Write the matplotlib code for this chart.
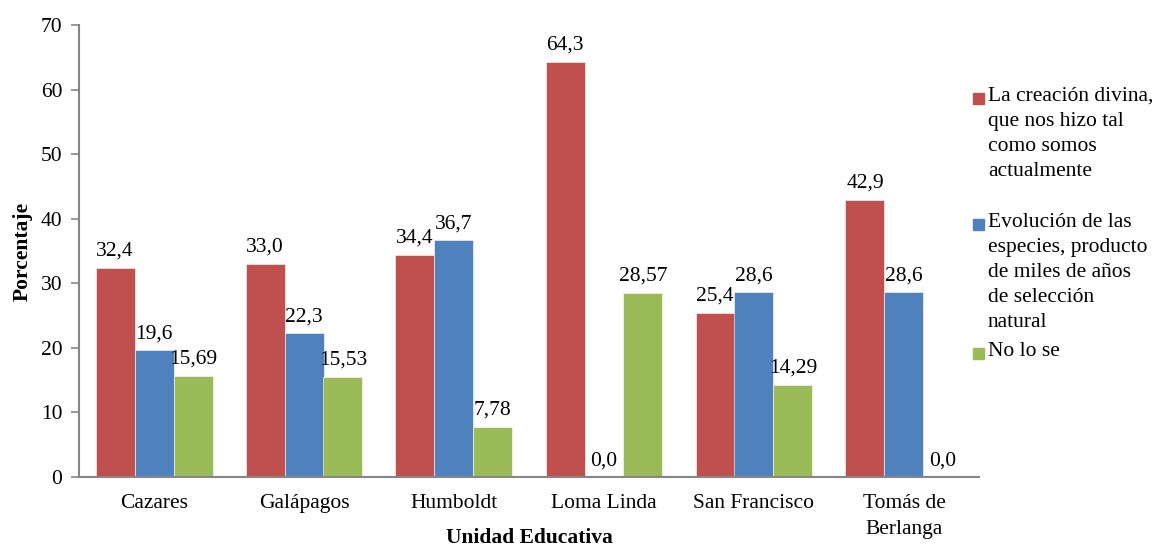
import matplotlib
matplotlib.use("Agg")
import matplotlib.pyplot as plt
import numpy as np
from matplotlib.patches import Rectangle

plt.rcParams["font.family"] = ["Liberation Serif", "DejaVu Serif"]

# data
categories = ["Cazares", "Galápagos", "Humboldt", "Loma Linda", "San Francisco", "Tomás de\nBerlanga"]
series_names = [
    "La creación divina,\nque nos hizo tal\ncomo somos\nactualmente",
    "Evolución de las\nespecies, producto\nde miles de años\nde selección\nnatural",
    "No lo se",
]
creacion = [32.4, 33.0, 34.4, 64.3, 25.4, 42.9]
evolucion = [19.6, 22.3, 36.7, 0.0, 28.6, 28.6]
no_se = [15.69, 15.53, 7.78, 28.57, 14.29, 0.0]
decimals = [1, 1, 2]
colors = ["#C0504D", "#4F81BD", "#9BBB59"]
y_ticks = [0, 10, 20, 30, 40, 50, 60, 70]

FS = 15.5


def fmt(v, nd):
    if v == 0:
        return "0,0"
    return f"{v:.{nd}f}".replace(".", ",")


def main() -> None:
    fig = plt.figure(figsize=(11.54, 5.49), dpi=100)
    ax = fig.add_axes([79 / 1154, 1 - 477 / 549, 900 / 1154, 452 / 549])

    x = np.arange(len(categories))
    width = 0.26
    all_series = [creacion, evolucion, no_se]
    for i, (vals, col, nd) in enumerate(zip(all_series, colors, decimals)):
        pos = x + (i - 1) * width
        ax.bar(pos, vals, width, color=col, edgecolor="white", linewidth=0.4)
        for px, v in zip(pos, vals):
            ax.annotate(fmt(v, nd), (px, v), xytext=(0, 5), textcoords="offset points",
                        ha="center", va="bottom", fontsize=FS)

    ax.set_xlim(-0.5, len(categories) - 0.5)
    ax.set_ylim(0, 70)
    ax.set_yticks(y_ticks)
    ax.set_xticks(x)
    ax.set_xticklabels(categories, fontsize=FS, linespacing=1.5)
    ax.tick_params(axis="x", length=0, pad=12)
    ax.tick_params(axis="y", labelsize=FS, length=6, color="#868686", width=1.2, pad=6)
    for side in ["top", "right"]:
        ax.spines[side].set_visible(False)
    for side in ["left", "bottom"]:
        ax.spines[side].set_color("#868686")
        ax.spines[side].set_linewidth(1.5)

    ax.set_ylabel("Porcentaje", fontsize=FS, fontweight="bold", labelpad=6)
    fig.text(529 / 1154, 1 / 549, "Unidad Educativa", ha="center", va="bottom",
             fontsize=FS, fontweight="bold")

    # legend drawn by hand to keep the marker on the first line
    cap_tops = [92, 218, 347]
    for name, col, top in zip(series_names, colors, cap_tops):
        fig.patches.append(Rectangle((973 / 1154, 1 - (top + 12) / 549), 11 / 1154, 11 / 549,
                                     transform=fig.transFigure, color=col))
        fig.text(988 / 1154, 1 - (top - 5) / 549, name, ha="left", va="top",
                 fontsize=FS, linespacing=1.42)

    fig.savefig("out.png", dpi=100)
    plt.close(fig)


if __name__ == "__main__":
    main()
